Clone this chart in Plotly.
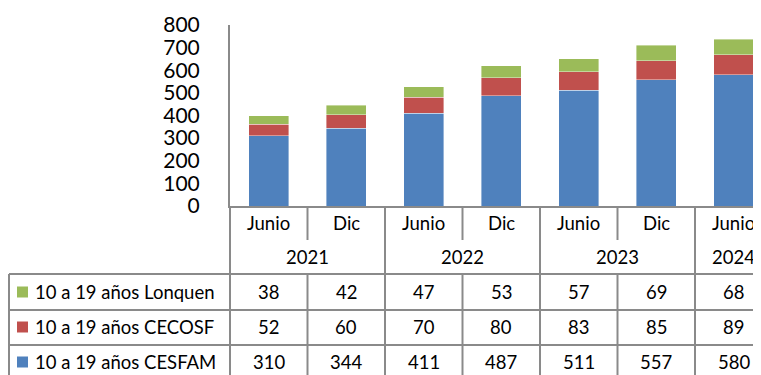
import plotly.graph_objects as go

# ---- data ----
periods = ["Junio", "Dic", "Junio", "Dic", "Junio", "Dic", "Junio"]
years = ["2021", "2022", "2023", "2024"]
year_spans = [2, 2, 2, 1]  # number of periods per year
series_names = ["10 a 19 años CESFAM", "10 a 19 años CECOSF", "10 a 19 años Lonquen"]
cesfam = [310, 344, 411, 487, 511, 557, 580]
cecosf = [52, 60, 70, 80, 83, 85, 89]
lonquen = [38, 42, 47, 53, 57, 69, 68]
series_values = [cesfam, cecosf, lonquen]
colors = ["#4F81BD", "#C0504D", "#9BBB59"]
y_ticks = [0, 100, 200, 300, 400, 500, 600, 700, 800]

# page has an 8px body margin; figure spans page pixels 8..761 x 8..375
OFF = 8
W, H = 761 - OFF, 375 - OFF
PLOT_L, PLOT_T, PLOT_B = 230, 25, 206   # page pixels
ML, MR, MT = PLOT_L - OFF, 0, PLOT_T - OFF
MB = H - (PLOT_B - OFF)
PH = PLOT_B - PLOT_T
PW = 761 - PLOT_L
COLW = 77.5
LINE = "#8A8A8A"
FONT = "Lato"
FS = 18.5


def py(y):  # page pixel row -> paper y
    return (PLOT_B - y) / PH


def px(x):  # page pixel col -> paper x
    return (x - PLOT_L) / PW


n = len(periods)
xs = list(range(n))

fig = go.Figure()
for name, vals, c in zip(series_names, series_values, colors):
    fig.add_trace(go.Bar(x=xs, y=vals, name=name,
                         marker=dict(color=c, line=dict(color="rgba(255,255,255,0.5)", width=0.8)),
                         hoverinfo="skip"))

shapes = []
annotations = []

hdr_top, hdr_bot = 206, 240
year_bot = 274
row_bounds = [274, 310, 345, 381]
BOTTOM = 400

bounds = []
acc = 0
for s in year_spans:
    acc += s
    bounds.append(acc)

for i in range(n - 1):
    xb = i + 0.5
    if (i + 1) in bounds:
        shapes.append(dict(type="line", xref="x", yref="paper", x0=xb, x1=xb, y0=py(hdr_top), y1=py(BOTTOM),
                           line=dict(color=LINE, width=2)))
    else:
        shapes.append(dict(type="line", xref="x", yref="paper", x0=xb, x1=xb, y0=py(hdr_top), y1=py(hdr_bot),
                           line=dict(color=LINE, width=2)))
        shapes.append(dict(type="line", xref="x", yref="paper", x0=xb, x1=xb, y0=py(year_bot), y1=py(BOTTOM),
                           line=dict(color=LINE, width=2)))

shapes.append(dict(type="line", xref="paper", yref="paper", x0=0, x1=0, y0=0, y1=py(BOTTOM),
                   line=dict(color=LINE, width=2)))
for yb in row_bounds:
    shapes.append(dict(type="line", xref="paper", yref="paper", x0=px(9), x1=1.05, y0=py(yb), y1=py(yb),
                       line=dict(color=LINE, width=2)))
shapes.append(dict(type="line", xref="paper", yref="paper", x0=px(9), x1=px(9), y0=py(row_bounds[0]), y1=py(BOTTOM),
                   line=dict(color=LINE, width=2)))

for i, p in enumerate(periods):
    annotations.append(dict(x=i, y=py((hdr_top + hdr_bot) / 2), xref="x", yref="paper", text=p, showarrow=False,
                            font=dict(size=FS, color="black", family=FONT), xanchor="center", yanchor="middle"))
start = 0
for yr, s in zip(years, year_spans):
    cx = start + (s - 1) / 2
    annotations.append(dict(x=cx, y=py((hdr_bot + year_bot) / 2), xref="x", yref="paper", text=yr, showarrow=False,
                            font=dict(size=FS, color="black", family=FONT), xanchor="center", yanchor="middle"))
    start += s

order = [2, 1, 0]
row_centers = [292, 327, 362]
for r, si in enumerate(order):
    yc = row_centers[r]
    shapes.append(dict(type="rect", xref="paper", yref="paper", x0=px(17), x1=px(28), y0=py(yc - 5.5), y1=py(yc + 5.5),
                       fillcolor=colors[si], line=dict(width=0)))
    annotations.append(dict(x=px(33), y=py(yc), xref="paper", yref="paper", text=series_names[si], showarrow=False,
                            font=dict(size=FS, color="black", family=FONT), xanchor="left", yanchor="middle"))
    for i, v in enumerate(series_values[si]):
        annotations.append(dict(x=i, y=py(yc), xref="x", yref="paper", text=str(v), showarrow=False,
                                font=dict(size=FS, color="black", family=FONT), xanchor="center", yanchor="middle"))

fig.update_layout(
    width=W, height=H,
    margin=dict(l=ML, r=MR, t=MT, b=MB, autoexpand=False),
    barmode="stack",
    bargap=0.484,
    showlegend=False,
    plot_bgcolor="white", paper_bgcolor="white",
    shapes=shapes, annotations=annotations,
    xaxis=dict(range=[-0.5, -0.5 + PW / COLW], showticklabels=False, ticks="", showgrid=False, zeroline=False,
               showline=True, linecolor=LINE, linewidth=2, fixedrange=True),
    yaxis=dict(range=[0, 800], tickvals=y_ticks, showgrid=False, zeroline=False, ticks="",
               showline=True, linecolor=LINE, linewidth=2, ticklabelstandoff=24,
               tickfont=dict(size=21, color="black", family=FONT), fixedrange=True),
)

fig.write_html("out.html")
